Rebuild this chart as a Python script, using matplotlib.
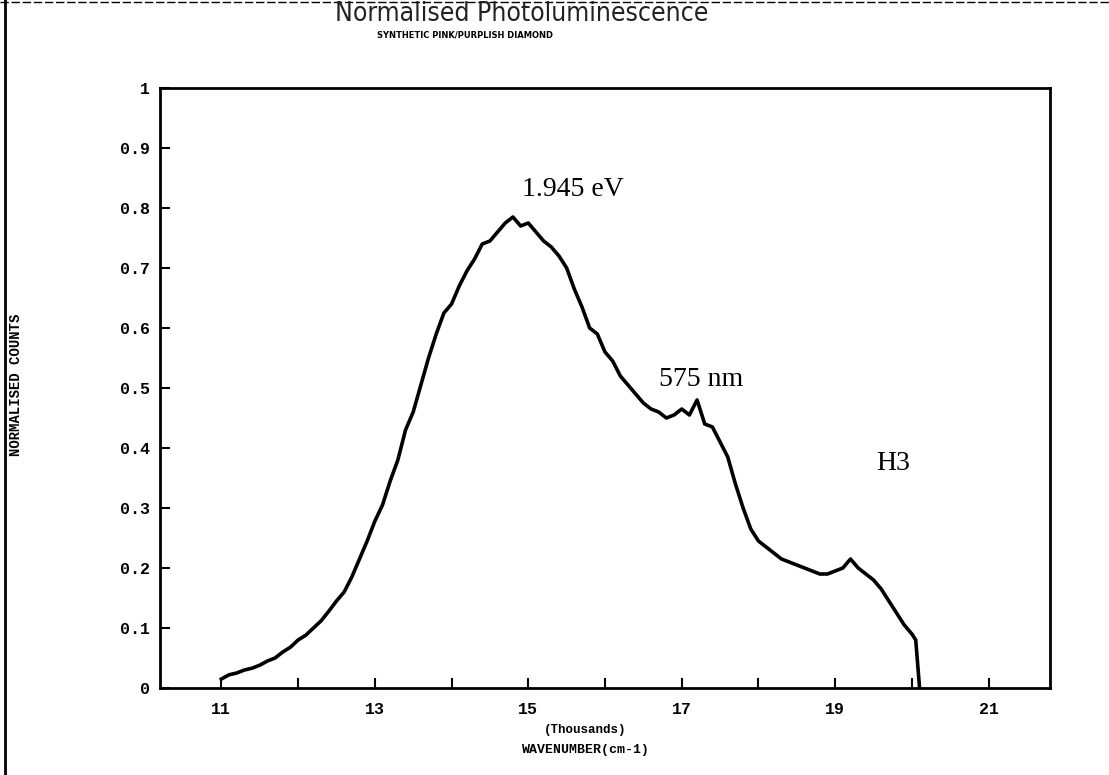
import matplotlib
matplotlib.use("Agg")
import matplotlib.pyplot as plt
from matplotlib.lines import Line2D

# Data (wavenumber in thousands of cm-1, normalised counts)
wavenumber = [11.0, 11.1, 11.2, 11.3, 11.4, 11.5, 11.6, 11.7, 11.8, 11.9,
              12.0, 12.1, 12.2, 12.3, 12.4, 12.5, 12.6, 12.7, 12.8, 12.9,
              13.0, 13.1, 13.2, 13.3, 13.4, 13.5, 13.6, 13.7, 13.8, 13.9,
              14.0, 14.1, 14.2, 14.3, 14.4, 14.5, 14.6, 14.7, 14.8, 14.9,
              15.0, 15.1, 15.2, 15.3, 15.4, 15.5, 15.6, 15.7, 15.8, 15.9,
              16.0, 16.1, 16.2, 16.3, 16.4, 16.5, 16.6, 16.7, 16.8, 16.9,
              17.0, 17.1, 17.2, 17.3, 17.4, 17.5, 17.6, 17.7, 17.8, 17.9,
              18.0, 18.1, 18.2, 18.3, 18.4, 18.5, 18.6, 18.7, 18.8, 18.9,
              19.0, 19.1, 19.2, 19.3, 19.4, 19.5, 19.6, 19.7, 19.8, 19.9,
              20.0, 20.05, 20.1]
counts = [0.015, 0.022, 0.025, 0.030, 0.033, 0.038, 0.045, 0.050, 0.060, 0.068,
          0.080, 0.088, 0.100, 0.112, 0.128, 0.145, 0.160, 0.185, 0.215, 0.245,
          0.278, 0.305, 0.345, 0.380, 0.430, 0.460, 0.505, 0.550, 0.590, 0.625,
          0.640, 0.670, 0.695, 0.715, 0.740, 0.745, 0.760, 0.775, 0.785, 0.770,
          0.775, 0.760, 0.745, 0.735, 0.720, 0.700, 0.665, 0.635, 0.600, 0.590,
          0.560, 0.545, 0.520, 0.505, 0.490, 0.475, 0.465, 0.460, 0.450, 0.455,
          0.465, 0.455, 0.480, 0.440, 0.435, 0.410, 0.385, 0.340, 0.300, 0.265,
          0.245, 0.235, 0.225, 0.215, 0.210, 0.205, 0.200, 0.195, 0.190, 0.190,
          0.195, 0.200, 0.215, 0.200, 0.190, 0.180, 0.165, 0.145, 0.125, 0.105,
          0.090, 0.080, 0.0]

x_ticks = list(range(11, 22))
x_tick_labels = ["11", "", "13", "", "15", "", "17", "", "19", "", "21"]
y_ticks = [0, 0.1, 0.2, 0.3, 0.4, 0.5, 0.6, 0.7, 0.8, 0.9, 1.0]
y_tick_labels = ["0", "0.1", "0.2", "0.3", "0.4", "0.5",
                 "0.6", "0.7", "0.8", "0.9", "1"]

annotations = [("1.945 eV", 15.58, 0.83), ("575 nm", 17.25, 0.515), ("H3", 19.76, 0.375)]

W, H = 1109, 775
fig = plt.figure(figsize=(W / 100, H / 100), dpi=100)
ax = fig.add_axes([160 / W, 1 - 688 / H, (1050 - 160) / W, (688 - 88) / H])

ax.plot(wavenumber, counts, color="black", lw=2.6)

ax.set_xlim(10.2, 21.8)
ax.set_ylim(0, 1.0)

ax.set_xticks(x_ticks)
ax.set_xticklabels(x_tick_labels, fontfamily="Liberation Mono", fontweight="bold", fontsize=12)
ax.set_yticks(y_ticks)
ax.set_yticklabels(y_tick_labels, fontfamily="Liberation Mono", fontweight="bold", fontsize=12)
ax.tick_params(axis="both", direction="in", length=7, width=1.5, color="black")
ax.tick_params(axis="x", pad=10)
ax.tick_params(axis="y", pad=7)
for s in ax.spines.values():
    s.set_linewidth(2.0)

for txt, xv, yv in annotations:
    ax.text(xv, yv, txt, ha="center", va="center", fontfamily="Liberation Serif",
            fontsize=20, color="black")

fig.text(0.528, 1 - 730 / H, "(Thousands)", ha="center", va="center",
         fontfamily="Liberation Mono", fontweight="bold", fontsize=9)
fig.text(0.528, 1 - 750 / H, "WAVENUMBER(cm-1)", ha="center", va="center",
         fontfamily="Liberation Mono", fontweight="bold", fontsize=9.5)
fig.text(16 / W, 1 - 385 / H, "NORMALISED COUNTS", rotation=90, ha="center", va="center",
         fontfamily="Liberation Mono", fontweight="bold", fontsize=10)

fig.text(0.47, 1 - 14 / H, "Normalised Photoluminescence", ha="center", va="center",
         fontfamily="DejaVu Sans", fontstretch="condensed", fontweight="light",
         fontsize=19, color="#222222")
fig.text(0.419, 1 - 35 / H, "SYNTHETIC PINK/PURPLISH DIAMOND", ha="center", va="center",
         fontfamily="DejaVu Sans", fontweight="bold", fontsize=6)

# scan border artefacts
fig.add_artist(Line2D([5 / W, 5 / W], [0, 1], transform=fig.transFigure, color="black", lw=2))
fig.add_artist(Line2D([0, 1], [1 - 2 / H, 1 - 2 / H], transform=fig.transFigure,
                      color="black", lw=1, ls=(0, (6, 2))))

fig.savefig("out.png", dpi=100)
